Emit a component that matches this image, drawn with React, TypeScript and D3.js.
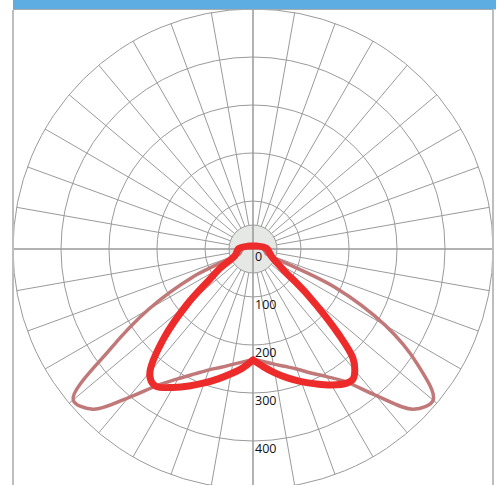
import React from "react";
import * as d3 from "d3";

// Polar intensity data (angle in degrees from nadir, positive = right side)
const redAngles = [-150, -120, -90, -80, -70, -65, -60, -55, -50, -45, -40, -37.5, -35, -30, -25, -20, -15, -10, -5, 0, 5, 10, 15, 20, 25, 30, 35, 37.5, 40, 42.5, 45, 50, 55, 60, 65, 70, 80, 90, 100, 120, 150, 180];
const redValues = [7, 12, 31, 34, 40, 50, 78, 110, 179, 262, 334, 348, 350, 333, 315, 297, 280, 264, 249, 231, 246, 262, 278, 294, 310, 327, 341, 342, 330, 308, 255, 149, 80, 58, 46, 40, 34, 30, 22, 12, 7, 6];

const pinkAngles = [-150, -120, -90, -80, -70, -68, -65, -60, -55, -50, -45, -40, -35, -30, -25, -20, -15, -10, -5, 0, 5, 10, 15, 20, 25, 30, 35, 40, 45, 50, 55, 60, 65, 68, 70, 80, 90, 120, 150, 180];
const pinkValues = [6, 10, 22, 25, 30, 40, 140, 251, 362, 489, 472, 405, 347, 312, 287, 268, 255, 244, 236, 230, 235, 243, 253, 266, 285, 307, 338, 398, 472, 490, 418, 318, 188, 40, 30, 25, 22, 10, 6, 5];

const ringValues = [100, 200, 300, 400, 500];
const tickLabels = [0, 100, 200, 300, 400];
const spokeStep = 10;
const maxValue = 500;

const W = 503;
const H = 485;
const cx = 253;
const cy = 249;
const R = 240;

function orderedFromNadir(angles: number[], values: number[]): [number, number][] {
  const pts = angles.map((a, i) => [a < 0 ? a + 360 : a, values[i]] as [number, number]);
  pts.sort((p, q) => p[0] - q[0]);
  const start = pts.find((p) => p[0] === 0);
  if (start) pts.push([360, start[1]]);
  return pts;
}

export default function App() {
  const r = d3.scaleLinear().domain([0, maxValue]).range([0, R]);
  const toRad = (deg: number) => Math.PI - (deg * Math.PI) / 180;

  const radial = d3
    .lineRadial<[number, number]>()
    .angle((d) => toRad(d[0]))
    .radius((d) => r(d[1]))
    .curve(d3.curveCatmullRom.alpha(0.5));

  const redPath = radial(orderedFromNadir(redAngles, redValues)) || "";
  const pinkPath = radial(orderedFromNadir(pinkAngles, pinkValues)) || "";

  const spokes = d3.range(0, 360, spokeStep).filter((a) => a % 90 !== 0);
  const hubR = r(50);

  return (
    <svg
      width={W}
      height={H}
      style={{ position: "absolute", left: 0, top: 0, background: "#fff" }}
    >
      <defs>
        <clipPath id="plot">
          <rect x={13} y={9} width={480} height={H - 9} />
        </clipPath>
      </defs>
      <rect x={13} y={0} width={483} height={9.5} fill="#5DADE2" />
      <g clipPath="url(#plot)">
        <g transform={`translate(${cx},${cy})`}>
          {ringValues.map((v) => (
            <circle key={v} r={r(v)} fill="none" stroke="#9a9a9a" strokeWidth={1} />
          ))}
          {spokes.map((a) => {
            const t = (a * Math.PI) / 180;
            return (
              <line
                key={a}
                x1={hubR * Math.sin(t)}
                y1={-hubR * Math.cos(t)}
                x2={R * Math.sin(t)}
                y2={-R * Math.cos(t)}
                stroke="#9a9a9a"
                strokeWidth={1}
              />
            );
          })}
          <circle r={hubR} fill="#E6E8E6" stroke="#9a9a9a" strokeWidth={1} />
          <line x1={-R - 5} y1={0} x2={R + 5} y2={0} stroke="#999" strokeWidth={1.5} />
          <line x1={0} y1={-R - 5} x2={0} y2={R + 5} stroke="#999" strokeWidth={1.5} />
          <path d={pinkPath} fill="none" stroke="#C07878" strokeWidth={3.5} strokeLinejoin="round" strokeLinecap="round" />
          <path d={redPath} fill="none" stroke="#EE2B2B" strokeWidth={7} strokeLinejoin="round" strokeLinecap="round" />
          {tickLabels.map((v) => (
            <text
              key={v}
              x={2}
              y={r(v) + 12}
              fontFamily="'Open Sans', sans-serif"
              fontSize={12.5}
              fill="#111"
            >
              {v}
            </text>
          ))}
        </g>
      </g>
      <line x1={13} y1={9.5} x2={493} y2={9.5} stroke="#aaa" strokeWidth={1} />
      <line x1={13} y1={10} x2={13} y2={H} stroke="#bdbdbd" strokeWidth={2} />
      <line x1={493} y1={10} x2={493} y2={H} stroke="#bdbdbd" strokeWidth={2} />
    </svg>
  );
}
